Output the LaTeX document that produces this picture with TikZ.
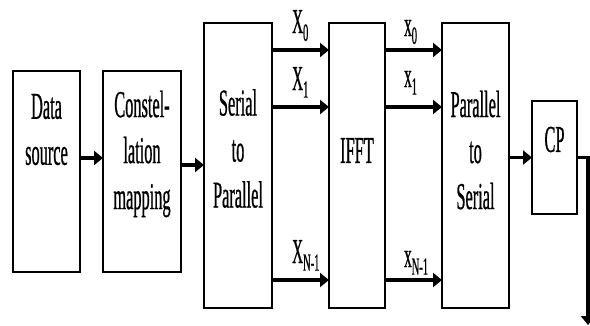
\documentclass[tikz,border=0pt]{standalone}
\usepackage{fontspec}
\setmainfont{Liberation Serif}[FakeStretch=0.43, FakeBold=0.6]
\usetikzlibrary{arrows.meta, positioning, calc}

\begin{document}
\begin{tikzpicture}[x=1pt, y=-1pt,
    blockbox/.style={draw, line width=1.5pt, inner sep=0pt, outer sep=0pt},
    blocktext/.style={align=center, inner sep=0pt, font=\fontsize{38}{46}\selectfont},
    sig/.style={line width=3.5pt, -{Triangle[length=9pt, width=14pt]}},
    gap/.style={line width=1pt, black!70, dash pattern=on 8pt off 6pt},
    sublabel/.style={inner sep=0pt, anchor=base west, font=\fontsize{35}{35}\selectfont}
  ]
  \useasboundingbox (0,0) rectangle (590,325);
  % blocks
  \node[blockbox, minimum width=67pt, minimum height=201pt] (src) at (46.5,171.5) {};
  \node[blockbox, minimum width=78pt, minimum height=201pt] (cmap) at (142,171.5) {};
  \node[blockbox, minimum width=68pt, minimum height=285pt] (sp) at (238,165.5) {};
  \node[blockbox, minimum width=56pt, minimum height=285pt] (ifft) at (357,165.5) {};
  \node[blockbox, minimum width=67pt, minimum height=285pt] (ps) at (475.5,165.5) {};
  \node[blockbox, minimum width=45pt, minimum height=113pt] (cp) at (554.5,157.5) {};
  % block texts
  \node[blocktext] (srctext) at (src |- 0,129.5) {Data\\source};
  \node[blocktext] (cmaptext) at (cmap |- 0,154) {Constel-\\lation\\mapping};
  \node[blocktext] (sptext) at (sp |- 0,148.5) {Serial\\to\\Parallel};
  \node[blocktext] (iffttext) at (ifft |- 0,150.5) {IFFT};
  \node[blocktext] (pstext) at (ps |- 0,150) {Parallel\\to\\Serial};
  \node[blocktext] (cptext) at (cp |- 0,139.5) {CP};
  % connectors
  \draw[sig] ([yshift=13.5pt]src.east) -- ([yshift=13.5pt]cmap.west);
  \draw[sig] ([yshift=6.5pt]cmap.east) -- ([yshift=6.5pt]cmap.east -| sp.west);
  \foreach \yy in {50,107,280} {
    \draw[sig] (sp.east |- 0,\yy) -- (ifft.west |- 0,\yy);
    \draw[sig] (ifft.east |- 0,\yy) -- (ps.west |- 0,\yy);
  }
  \draw[sig] (ps.east |- cp.west) -- (cp.west);
  \coordinate (out) at (588,325);
  \draw[sig] (cp.east) -| (out);
  % dashed gaps
  \draw[gap] ($(sp.east)!0.4!(ifft.west)$ |- 0,133) -- ($(sp.east)!0.4!(ifft.west)$ |- 0,213);
  \draw[gap] ($(ifft.east)!0.4!(ps.west)$ |- 0,133) -- ($(ifft.east)!0.4!(ps.west)$ |- 0,213);
  % labels
  \node[sublabel] (lx0) at (292,33) {X\textsubscript{0}};
  \node[sublabel] (lx1) at (292,90) {X\textsubscript{1}};
  \node[sublabel] (lxn) at (292,263) {X\textsubscript{N-1}};
  \node[sublabel] (rx0) at (404,36) {x\textsubscript{0}};
  \node[sublabel] (rx1) at (404,87) {x\textsubscript{1}};
  \node[sublabel] (rxn) at (404,267) {x\textsubscript{N-1}};
\end{tikzpicture}
\end{document}
